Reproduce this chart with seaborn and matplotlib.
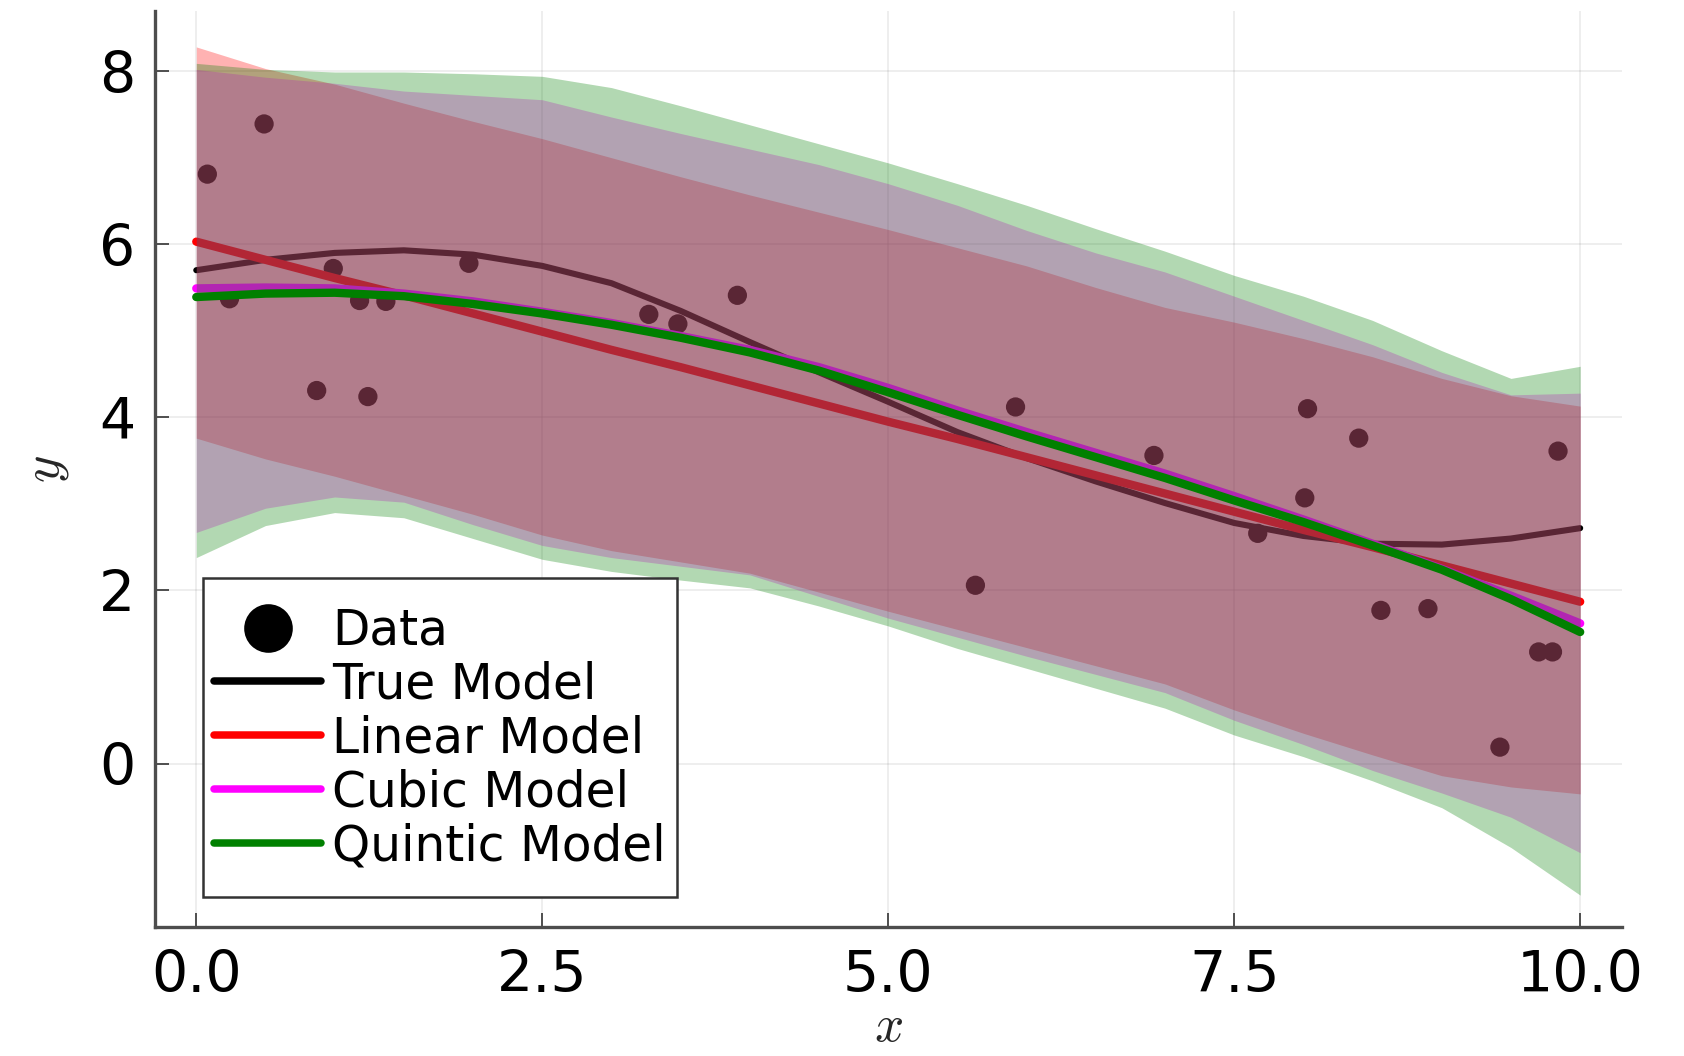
"""
Recreate the model comparison chart: data, true model and three fitted models with bands.
"""

import matplotlib.pyplot as plt
import seaborn as sns
from matplotlib.lines import Line2D
from matplotlib.patches import Rectangle

# observed data
data_x = [0.08, 0.24, 0.49, 0.87, 0.99, 1.18, 1.24, 1.37, 1.97, 3.27, 3.48, 3.91, 5.63,
          5.92, 6.92, 7.67, 8.01, 8.03, 8.40, 8.56, 8.90, 9.42, 9.70, 9.80, 9.84]
data_y = [6.81, 5.37, 7.39, 4.31, 5.72, 5.35, 4.24, 5.34, 5.78, 5.19, 5.08, 5.41, 2.06,
          4.12, 3.56, 2.66, 3.07, 4.10, 3.76, 1.77, 1.79, 0.19, 1.29, 1.29, 3.61]

# grid the curves were read on
grid_x = [0.0, 0.5, 1.0, 1.5, 2.0, 2.5, 3.0, 3.5, 4.0, 4.5, 5.0,
          5.5, 6.0, 6.5, 7.0, 7.5, 8.0, 8.5, 9.0, 9.5, 10.0]

true_y = [5.70, 5.82, 5.90, 5.93, 5.88, 5.75, 5.55, 5.23, 4.87, 4.52, 4.18,
          3.83, 3.53, 3.26, 3.01, 2.78, 2.63, 2.54, 2.53, 2.60, 2.72]

linear_mean = [6.03, 5.82, 5.61, 5.41, 5.20, 4.99, 4.78, 4.58, 4.37, 4.16, 3.95,
               3.75, 3.54, 3.33, 3.12, 2.91, 2.70, 2.50, 2.29, 2.08, 1.87]
linear_hi = [8.28, 8.03, 7.85, 7.63, 7.42, 7.22, 7.00, 6.78, 6.57, 6.37, 6.17,
             5.96, 5.75, 5.50, 5.27, 5.10, 4.91, 4.70, 4.45, 4.25, 4.13]
linear_lo = [3.76, 3.52, 3.32, 3.10, 2.88, 2.64, 2.46, 2.33, 2.20, 1.98, 1.76,
             1.55, 1.34, 1.13, 0.92, 0.62, 0.35, 0.10, -0.14, -0.27, -0.35]

cubic_mean = [5.49, 5.50, 5.49, 5.43, 5.34, 5.22, 5.09, 4.94, 4.78, 4.58, 4.34,
              4.08, 3.83, 3.59, 3.35, 3.09, 2.82, 2.54, 2.25, 1.94, 1.62]
cubic_hi = [8.02, 7.93, 7.86, 7.77, 7.72, 7.67, 7.47, 7.28, 7.10, 6.92, 6.70,
            6.45, 6.16, 5.90, 5.68, 5.40, 5.12, 4.84, 4.52, 4.26, 4.28]
cubic_lo = [2.67, 2.95, 3.08, 3.02, 2.76, 2.52, 2.38, 2.28, 2.18, 1.93, 1.68,
            1.46, 1.24, 1.03, 0.82, 0.50, 0.22, -0.08, -0.34, -0.62, -1.03]

quintic_mean = [5.39, 5.43, 5.44, 5.40, 5.31, 5.20, 5.07, 4.92, 4.75, 4.54, 4.29,
                4.03, 3.78, 3.54, 3.30, 3.04, 2.79, 2.52, 2.24, 1.90, 1.52]
quintic_hi = [8.09, 8.02, 7.99, 7.99, 7.97, 7.94, 7.81, 7.60, 7.38, 7.16, 6.94,
              6.70, 6.45, 6.18, 5.92, 5.64, 5.40, 5.12, 4.77, 4.45, 4.59]
quintic_lo = [2.38, 2.75, 2.90, 2.84, 2.60, 2.36, 2.22, 2.12, 2.03, 1.82, 1.59,
              1.33, 1.10, 0.87, 0.64, 0.33, 0.08, -0.20, -0.51, -0.97, -1.52]

models = [
    ("Linear Model", "red", linear_mean, linear_lo, linear_hi),
    ("Cubic Model", "magenta", cubic_mean, cubic_lo, cubic_hi),
    ("Quintic Model", "green", quintic_mean, quintic_lo, quintic_hi),
]

sns.set_style("ticks")
plt.rcParams["font.family"] = ["DejaVu Sans"]
plt.rcParams["mathtext.fontset"] = "cm"
plt.rcParams["text.color"] = "black"

fig = plt.figure(figsize=(8.42, 5.28), dpi=200)
ax = fig.add_axes([0.0919, 0.122, 0.963 - 0.0919, 0.990 - 0.122])

sns.scatterplot(x=data_x, y=data_y, color="black", s=48, edgecolor="none", ax=ax, zorder=2)
sns.lineplot(x=grid_x, y=true_y, color="black", lw=2.2, ax=ax, zorder=3)

z = 4
for name, color, mean, lo, hi in models:
    ax.fill_between(grid_x, lo, hi, color=color, alpha=0.3, lw=0, zorder=z)
    sns.lineplot(x=grid_x, y=mean, color=color, lw=3, ax=ax, zorder=z + 1)
    z += 2

ax.set_xlim(-0.3, 10.3)
ax.set_ylim(-1.89, 8.70)
ax.set_xticks([0, 2.5, 5, 7.5, 10])
ax.set_xticklabels(["0.0", "2.5", "5.0", "7.5", "10.0"])
ax.set_yticks([0, 2, 4, 6, 8])
ax.grid(True, color="black", alpha=0.08, lw=0.6)
ax.set_axisbelow(True)

for side in ["top", "right"]:
    ax.spines[side].set_visible(False)
for side in ["left", "bottom"]:
    ax.spines[side].set_color("#4d4d4d")
    ax.spines[side].set_linewidth(1.2)
ax.tick_params(axis="both", direction="in", length=5, width=0.6, color="#333333",
               labelsize=20.5, labelcolor="black")
ax.tick_params(axis="x", pad=8)
ax.tick_params(axis="y", pad=7)

ax.set_xlabel("$x$", fontsize=18.5, va="center")
ax.xaxis.set_label_coords(0.5, -0.109)
ax.set_ylabel("$y$", fontsize=19, labelpad=10)

# legend frame drawn separately so the padding matches the original
ax.add_patch(Rectangle((0.0329, 0.0327), 0.323, 0.348, transform=ax.transAxes,
                       facecolor="white", edgecolor="#333333", lw=0.9, zorder=19))

handles = [
    Line2D([], [], marker="o", color="black", linestyle="none", markersize=16.5),
    Line2D([], [], color="black", lw=2.7),
    Line2D([], [], color="red", lw=2.7),
    Line2D([], [], color="magenta", lw=2.7),
    Line2D([], [], color="green", lw=2.7),
]
labels = ["Data", "True Model", "Linear Model", "Cubic Model", "Quintic Model"]
leg = ax.legend(handles, labels, loc="center left", bbox_to_anchor=(0.0405, 0.206),
                borderaxespad=0, borderpad=0, fontsize=17.5, frameon=False,
                handlelength=2.2, handletextpad=0.22, labelspacing=0.12)
leg.set_zorder(20)

fig.savefig("out.png", dpi=200)
